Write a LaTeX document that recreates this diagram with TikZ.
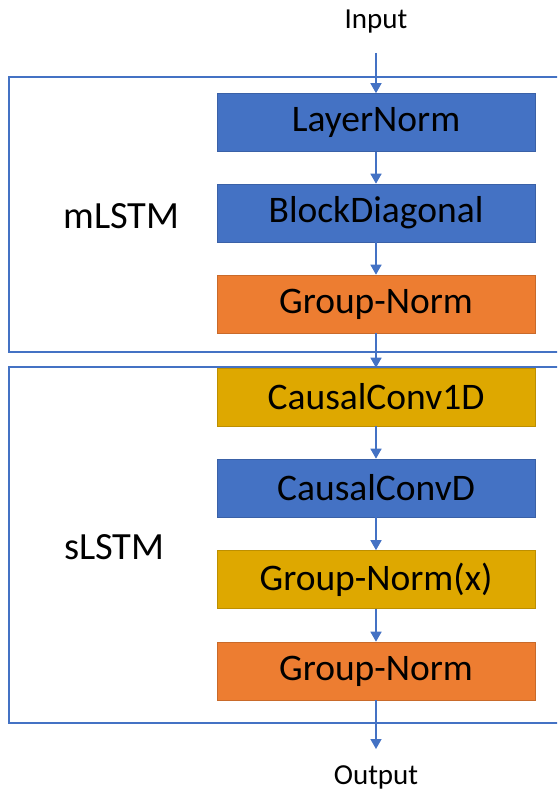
\documentclass[tikz,border=0pt]{standalone}
\usepackage{fontspec}
\setmainfont{Carlito}
\usetikzlibrary{arrows.meta}
\definecolor{oblue}{RGB}{68,114,196}
\definecolor{oorange}{RGB}{237,125,49}
\definecolor{ogold}{RGB}{222,168,0}
\tikzset{
  blk/.style={minimum width=318pt, minimum height=58pt, inner sep=0pt, font=\fontsize{37.5}{37.5}\selectfont, text=black, draw=#1!85!black, line width=0.6pt, fill=#1},
  grp/.style={draw=oblue, line width=2pt},
  conn/.style={draw=oblue, line width=1.5pt, -{Triangle[width=11pt,length=10pt]}},
  lbl/.style={font=\fontsize{29}{29}\selectfont, text=black},
  glbl/.style={font=\fontsize{38.5}{38.5}\selectfont, text=black}
}
\begin{document}
\begin{tikzpicture}[x=1pt,y=-1pt]
\useasboundingbox (0,0) rectangle (557,792);
\clip (0,0) rectangle (557,792);
\draw[grp] (9,77) rectangle (600,352);
\draw[grp] (9,367) rectangle (600,723);
\node[glbl] (m) at (121.5,216) {mLSTM};
\node[glbl] (s) at (114.5,547) {sLSTM};
\node[lbl] (in) at (376,22) {Input};
\node[lbl] (out) at (376,777) {Output};
\node[blk=oblue] (b1) at (376,122.5) {LayerNorm};
\node[blk=oblue] (b2) at (376,213) {BlockDiagonal};
\node[blk=oorange] (b3) at (376,304) {Group-Norm};
\node[blk=ogold] (b4) at (376,397) {CausalConv1D};
\node[blk=oblue] (b5) at (376,488) {CausalConvD};
\node[blk=ogold] (b6) at (376,579.5) {Group-Norm(x)};
\node[blk=oorange] (b7) at (376,671) {Group-Norm};
\coordinate (inend) at (376,53);
\coordinate (outend) at (376,749);
\draw[conn] (inend) -- (b1.north);
\draw[conn] (b1) -- (b2);
\draw[conn] (b2) -- (b3);
\draw[conn] (b3) -- (b4);
\draw[conn] (b4) -- (b5);
\draw[conn] (b5) -- (b6);
\draw[conn] (b6) -- (b7);
\draw[conn] (b7.south) -- (outend);
\end{tikzpicture}
\end{document}
